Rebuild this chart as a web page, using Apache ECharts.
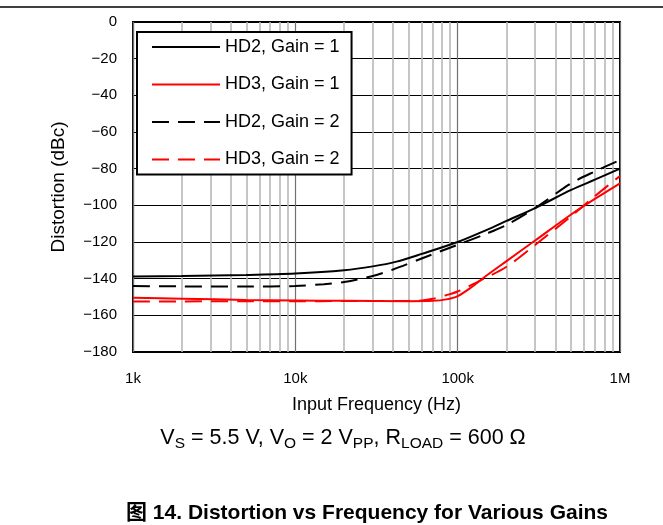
<!DOCTYPE html>
<html>
<head>
<meta charset="utf-8">
<style>
  html, body { margin: 0; padding: 0; background: #fff; }
  #chart { width: 663px; height: 525px; }
</style>
<script src="https://cdn.jsdelivr.net/npm/echarts@6/dist/echarts.min.js"></script>
</head>
<body>
<div id="chart"></div>
<script>
// Input frequencies (Hz) and measured distortion (dBc) per curve
const hd2G1Freq = [1000, 2000, 5000, 10000, 20000, 30000, 42000, 60000, 100000, 150000, 200000, 300000, 500000, 700000, 1000000];
const hd2G1 = [-138.8, -138.6, -138.0, -137.2, -135.4, -133.3, -130.7, -126.5, -120.0, -113.5, -108.5, -101.5, -91.6, -86.0, -80.0];

const hd2G2Freq = [1000, 2000, 5000, 10000, 15000, 20000, 30000, 40000, 60000, 100000, 150000, 200000, 300000, 500000, 700000, 1000000];
const hd2G2 = [-144.0, -144.2, -144.3, -144.0, -143.0, -141.8, -138.5, -135.0, -129.0, -121.5, -115.5, -110.7, -101.5, -88.0, -81.5, -75.3];

const hd3G1Freq = [1000, 2000, 5000, 10000, 20000, 50000, 70000, 85000, 100000, 120000, 150000, 200000, 300000, 500000, 700000, 1000000];
const hd3G1 = [-150.4, -150.9, -151.6, -151.9, -152.1, -152.3, -152.1, -151.3, -149.5, -145.0, -138.4, -130.4, -119.2, -105.0, -96.5, -88.0];

const hd3G2Freq = [1000, 2000, 5000, 10000, 20000, 50000, 60000, 70000, 85000, 100000, 140000, 200000, 300000, 500000, 700000, 1000000];
const hd3G2 = [-152.5, -152.4, -152.3, -152.3, -152.2, -152.1, -151.9, -151.0, -149.0, -147.0, -140.7, -133.5, -121.6, -105.9, -95.0, -84.0];

// Axis ticks
const yTicks = { min: -180, max: 0, step: 20 };
const xDecades = [1000, 10000, 100000, 1000000];
const xDecadeLabels = ['1k', '10k', '100k', '1M'];
const minorSteps = [2, 3, 4, 5, 6, 7, 8, 9];

const seriesNames = ['HD2, Gain = 1', 'HD3, Gain = 1', 'HD2, Gain = 2', 'HD3, Gain = 2'];

const pairs = (xs, ys) => xs.map((x, i) => [x, ys[i]]);

// Light gridlines at 2..9 within each decade
const minorGrid = [];
xDecades.slice(0, -1).forEach(d => minorSteps.forEach(m => minorGrid.push({ xAxis: d * m })));

const FONT = "'Liberation Sans', Arial, 'Noto Sans CJK SC', sans-serif";
const DASH = [17, 9];

function lineSeries(name, xs, ys, color, dashed) {
  return {
    name, type: 'line', data: pairs(xs, ys), smooth: 0.3,
    showSymbol: false, symbol: 'none', z: 5,
    lineStyle: { color, width: 2, type: dashed ? DASH : 'solid' },
    itemStyle: { color }
  };
}

const chart = echarts.init(document.getElementById('chart'), null, { renderer: 'canvas' });

chart.setOption({
  animation: false,
  backgroundColor: '#fff',
  textStyle: { fontFamily: FONT, color: '#000' },
  grid: {
    left: 133, right: 43, top: 22, bottom: 173,
    show: true, borderColor: '#000', borderWidth: 2, backgroundColor: 'transparent'
  },
  title: [
    {
      text: 'V{s|S} = 5.5 V, V{s|O} = 2 V{s|PP}, R{s|LOAD} = 600 Ω',
      left: 338, top: 420, textAlign: 'center',
      textStyle: {
        fontFamily: FONT, fontSize: 21.5, fontWeight: 'normal', color: '#000', lineHeight: 26,
        rich: {
          s: { fontFamily: FONT, fontSize: 15.5, lineHeight: 15, verticalAlign: 'bottom', color: '#000' }
        }
      }
    },
    {
      text: '图 14. Distortion vs Frequency for Various Gains',
      left: 362, top: 498, textAlign: 'center',
      textStyle: { fontFamily: FONT, fontSize: 21, fontWeight: 'bold', color: '#000' }
    }
  ],
  legend: {
    data: seriesNames,
    orient: 'vertical',
    left: 137, top: 32,
    backgroundColor: '#fff',
    borderColor: '#000', borderWidth: 2,
    padding: [6, 12, 6, 14],
    itemWidth: 68, itemHeight: 18, itemGap: 19.5, itemTextGap: 9,
    itemStyle: { opacity: 0 },
    textStyle: { fontFamily: FONT, fontSize: 18, color: '#000', lineHeight: 18 },
    selectedMode: false,
    z: 10
  },
  xAxis: {
    type: 'log', logBase: 10, min: 1000, max: 1000000,
    name: 'Input Frequency (Hz)', nameLocation: 'middle', nameGap: 44,
    nameTextStyle: { fontFamily: FONT, fontSize: 18, color: '#000' },
    axisLine: { show: false }, axisTick: { show: false },
    axisLabel: {
      fontFamily: FONT, fontSize: 15, color: '#000', margin: 19,
      formatter: v => {
        const i = xDecades.findIndex(d => Math.abs(d - v) / d < 1e-6);
        return i >= 0 ? xDecadeLabels[i] : '';
      }
    },
    splitLine: { show: true, lineStyle: { color: '#707070', width: 1.2 } },
    minorTick: { show: false }, minorSplitLine: { show: false }
  },
  yAxis: {
    type: 'value', min: yTicks.min, max: yTicks.max, interval: yTicks.step,
    name: 'Distortion (dBc)', nameLocation: 'middle', nameGap: 65,
    nameTextStyle: { fontFamily: FONT, fontSize: 19, color: '#000' },
    axisLine: { show: false }, axisTick: { show: false },
    axisLabel: {
      fontFamily: FONT, fontSize: 15, color: '#000', margin: 16,
      formatter: v => (v === 0 ? '0' : '\u2212' + Math.abs(v))
    },
    splitLine: { show: true, lineStyle: { color: '#000', width: 1 } }
  },
  series: [
    {
      name: 'minor-grid', type: 'line', data: [], z: 1, silent: true,
      markLine: {
        silent: true, symbol: ['none', 'none'], animation: false,
        label: { show: false },
        lineStyle: { color: '#b8b8b8', width: 1.6, type: 'solid' },
        emphasis: { disabled: true },
        data: minorGrid
      }
    },
    lineSeries(seriesNames[0], hd2G1Freq, hd2G1, '#000', false),
    lineSeries(seriesNames[1], hd3G1Freq, hd3G1, '#ff0000', false),
    lineSeries(seriesNames[2], hd2G2Freq, hd2G2, '#000', true),
    lineSeries(seriesNames[3], hd3G2Freq, hd3G2, '#ff0000', true)
  ],
  graphic: [
    {
      type: 'line', silent: true,
      shape: { x1: 0, y1: 7, x2: 663, y2: 7 },
      style: { stroke: '#000', lineWidth: 1.5 }
    }
  ]
});
</script>
</body>
</html>
